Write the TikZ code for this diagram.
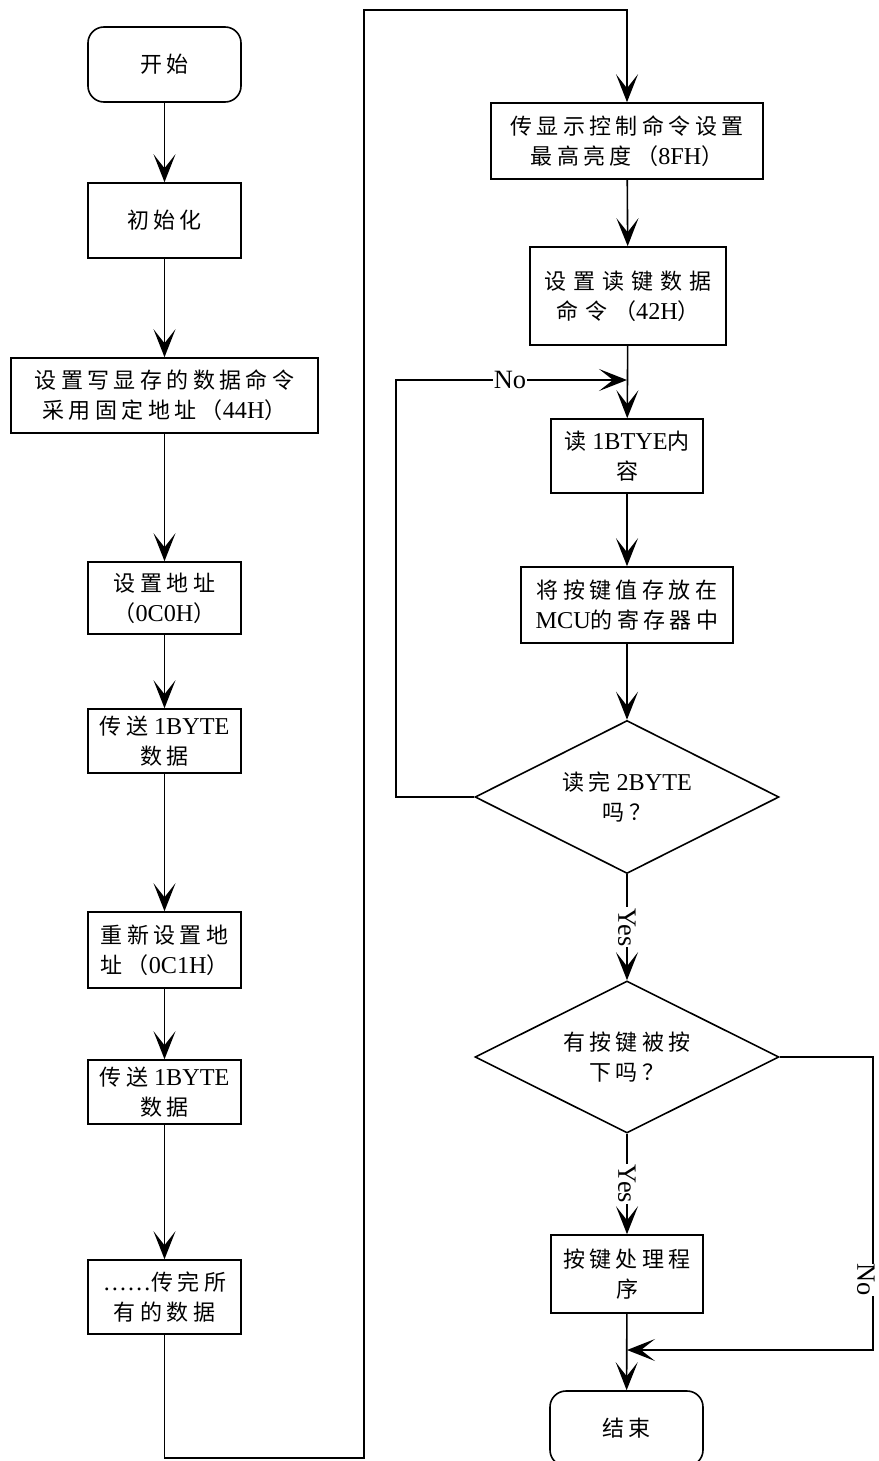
\documentclass[tikz,border=0pt]{standalone}
\usepackage{fontspec}
\setmainfont{Liberation Serif}[Scale=1.1]
\newfontfamily\zhfont[LetterSpace=20]{Noto Sans CJK SC}
\newfontfamily\zhwide[LetterSpace=32]{Noto Sans CJK SC}
\newcommand{\zh}[1]{{\zhfont #1}}
\usetikzlibrary{arrows.meta,shapes.geometric}

\tikzset{
  box/.style={draw, align=center, inner sep=0pt, font=\fontsize{11}{15}\selectfont},
  term/.style={box, rounded corners=8pt},
  decision/.style={box, diamond, aspect=2},
  lbl/.style={fill=white, inner sep=0.5pt, font=\fontsize{12}{13}\selectfont},
}

\begin{document}
\begin{tikzpicture}[x=0.5pt, y=-0.5pt, line width=0.8pt,
    >={Stealth[length=14pt, width=11pt, inset=7pt]}]
    \useasboundingbox (0,0) rectangle (878,1461);

    % left column
    \node[term, minimum width=76.5pt, minimum height=37.5pt] (start) at (164.5, 64.5) {\zh{开始}};
    \node[box,  minimum width=76.5pt, minimum height=37.5pt] (init)  at (164.5, 220.5) {\zh{初始化}};
    \node[box,  minimum width=153.5pt, minimum height=37.5pt] (wcmd) at (164.5, 395.5)
        {\zh{设置写显存的数据命令}\\\zh{采用固定地址（}44H\zh{）}};
    \node[box,  minimum width=76.5pt, minimum height=36pt] (addr)  at (164.5, 598)
        {\zh{设置地址}\\\zh{（}0C0H\zh{）}};
    \node[box,  minimum width=76.5pt, minimum height=32pt] (send1) at (164.5, 741)
        {\zh{传送} 1BYTE\\\zh{数据}};
    \node[box,  minimum width=76.5pt, minimum height=38pt] (reset) at (164.5, 950)
        {\zh{重新设置地}\\\zh{址（}0C1H\zh{）}};
    \node[box,  minimum width=76.5pt, minimum height=32pt] (send2) at (164.5, 1092)
        {\zh{传送} 1BYTE\\\zh{数据}};
    \node[box,  minimum width=76.5pt, minimum height=37pt] (all)   at (164.5, 1297)
        {……\zh{传完所}\\\zh{有的数据}};

    % right column
    \node[box, minimum width=136pt, minimum height=38pt] (disp) at (627, 141)
        {\zh{传显示控制命令设置}\\\zh{最高亮度（}8FH\zh{）}};
    \node[box, minimum width=98pt, minimum height=49pt] (rcmd) at (628, 296)
        {{\zhwide 设置读键数据}\\{\zhwide 命令（}42H\zh{）}};
    \node[box, minimum width=76pt, minimum height=37pt] (read) at (627, 456)
        {\zh{读} 1BTYE\zh{内}\\\zh{容}};
    \node[box, minimum width=106pt, minimum height=38pt] (mcu) at (627, 605)
        {\zh{将按键值存放在}\\MCU\zh{的寄存器中}};
    \node[decision, minimum width=152pt, minimum height=76.5pt] (done) at (627, 797)
        {\zh{读完} 2BYTE\\\zh{吗？}};
    \node[decision, minimum width=152pt, minimum height=76pt] (key) at (627, 1057)
        {\zh{有按键被按}\\\zh{下吗？}};
    \node[box, minimum width=76pt, minimum height=39pt] (proc) at (627, 1274)
        {\zh{按键处理程}\\\zh{序}};
    \node[term, minimum width=76.5pt, minimum height=37.5pt] (end) at (626.5, 1428.5) {\zh{结束}};

    \coordinate (b1) at (164.5, 1458);
    \coordinate (b2) at (364, 1458);
    \coordinate (t1) at (364, 10);
    \coordinate (t2) at (627, 10);
    \coordinate (n1) at (396, 797);
    \coordinate (n2) at (396, 380);
    \coordinate (n3) at (627, 380);
    \coordinate (r1) at (873, 1057);
    \coordinate (r2) at (873, 1350);
    \coordinate (r3) at (627, 1350);

    \draw[->] (start) -- (init);
    \draw[->] (init)  -- (wcmd);
    \draw[->] (wcmd)  -- (addr);
    \draw[->] (addr)  -- (send1);
    \draw[->] (send1) -- (reset);
    \draw[->] (reset) -- (send2);
    \draw[->] (send2) -- (all);
    \draw[->] (all) -- (b1) -- (b2) -- (t1) -- (t2) -- (disp);

    \draw[->] (disp) -- (rcmd);
    \draw[->] (rcmd) -- (read);
    \draw[->] (read) -- (mcu);
    \draw[->] (mcu)  -- (done);
    \draw[->] (done.west) -- (n1) -- (n2) -- (n3);
    \node[lbl] (no1) at (510, 380) {No};
    \draw[->] (done) -- node[lbl, rotate=-90] (yes1) {Yes} (key);
    \draw[->] (key)  -- node[lbl, rotate=-90] (yes2) {Yes} (proc);
    \draw[->] (key.east) -- (r1) -- (r2) -- (r3);
    \node[lbl, rotate=-90, text depth=0pt, inner sep=0pt] (no2) at (866, 1280) {No};
    \draw[->] (proc) -- (end);
\end{tikzpicture}
\end{document}
